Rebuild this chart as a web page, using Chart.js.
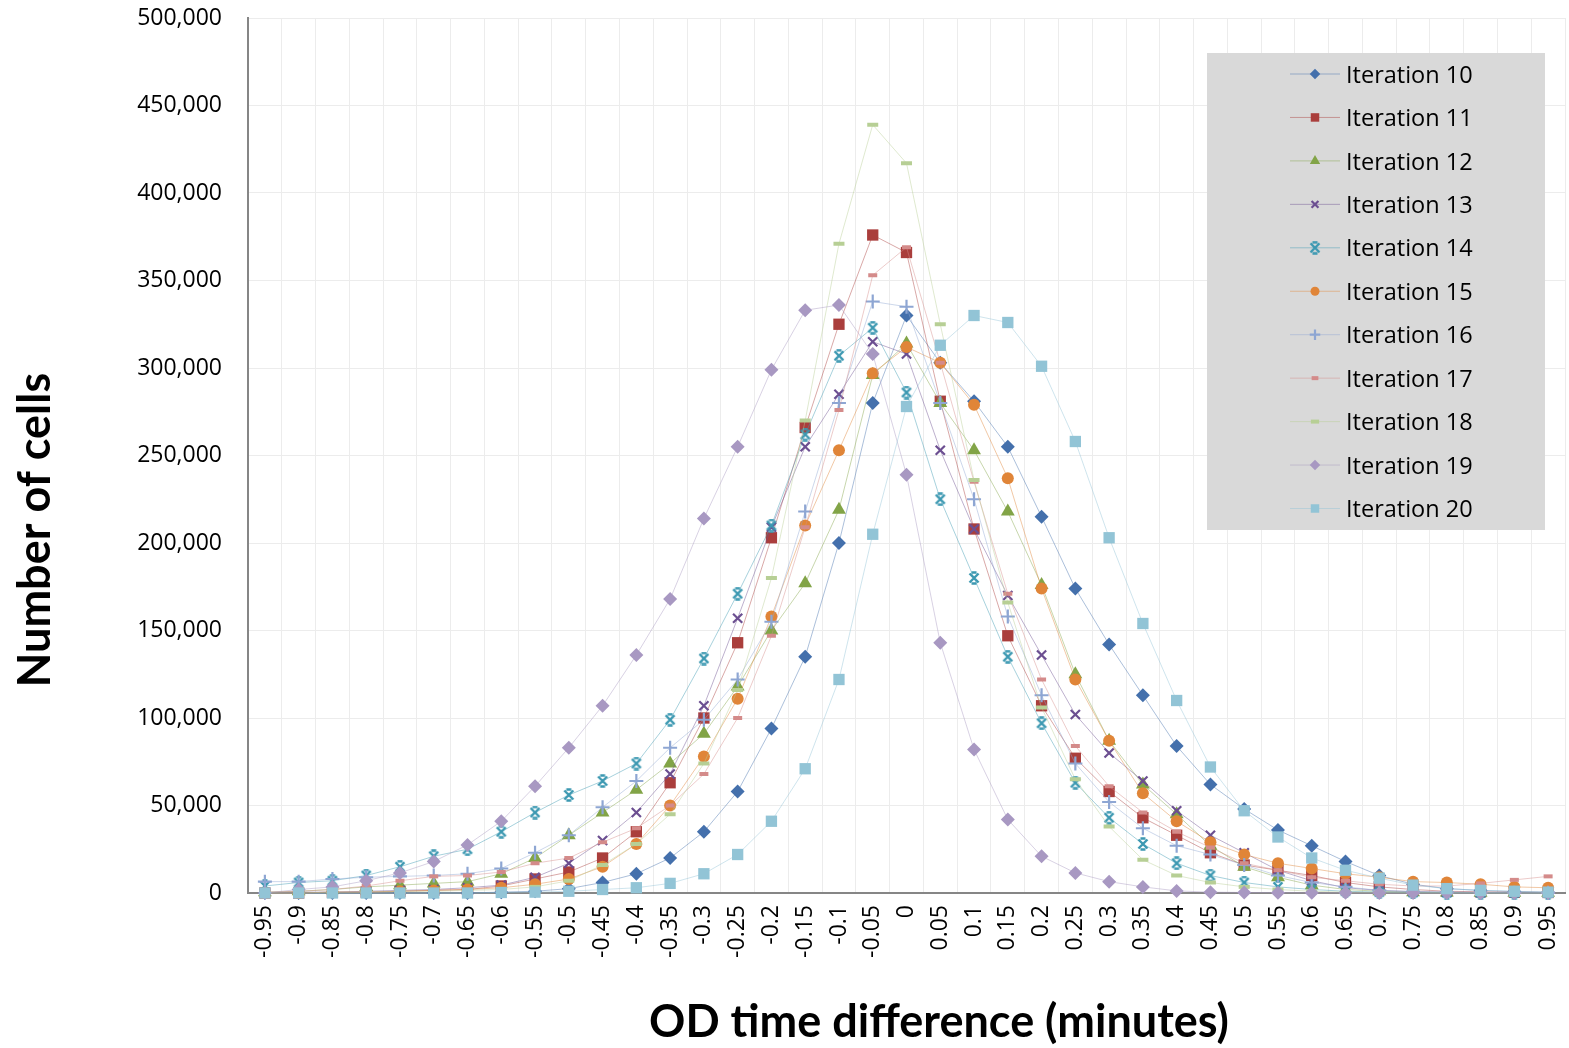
<!DOCTYPE html>
<html>
<head>
<meta charset="utf-8">
<title>OD time difference</title>
<script src="https://cdn.jsdelivr.net/npm/chart.js@4.4.1/dist/chart.umd.min.js"></script>
<style>
    html, body { margin: 0; padding: 0; background: #fff; }
    #wrap { position: relative; width: 1569px; height: 1048px; }
</style>
</head>
<body>
<div id="wrap"><canvas id="chart" width="1569" height="1048"></canvas></div>
<script>
// Kategorien (x-Achse)
const categories = ["-0.95", "-0.9", "-0.85", "-0.8", "-0.75", "-0.7", "-0.65", "-0.6", "-0.55", "-0.5",
    "-0.45", "-0.4", "-0.35", "-0.3", "-0.25", "-0.2", "-0.15", "-0.1", "-0.05", "0",
    "0.05", "0.1", "0.15", "0.2", "0.25", "0.3", "0.35", "0.4", "0.45", "0.5",
    "0.55", "0.6", "0.65", "0.7", "0.75", "0.8", "0.85", "0.9", "0.95"];

// y-Achse
const yTicks = [0, 50000, 100000, 150000, 200000, 250000, 300000, 350000, 400000, 450000, 500000];

const seriesNames = ["Iteration 10", "Iteration 11", "Iteration 12", "Iteration 13", "Iteration 14",
    "Iteration 15", "Iteration 16", "Iteration 17", "Iteration 18", "Iteration 19", "Iteration 20"];

// Werte pro Iteration
const iter10 = [0, 0, 0, 0, 0, 0, 0, 500, 1000, 2500, 6000, 11000, 20000, 35000, 58000, 94000, 135000, 200000, 280000, 330000,
    303000, 281000, 255000, 215000, 174000, 142000, 113000, 84000, 62000, 48000, 36000, 27000, 18000, 10000, 5000, 2500, 1500, 800, 500];
const iter11 = [0, 0, 500, 500, 1000, 1500, 2000, 4000, 8000, 12000, 20000, 35000, 63000, 100000, 143000, 203000, 266000, 325000, 376000, 366000,
    281000, 208000, 147000, 107000, 77000, 58000, 43000, 33000, 23000, 16000, 13000, 10000, 6000, 3500, 2000, 1000, 700, 500, 300];
const iter12 = [500, 1000, 2000, 3500, 4500, 5500, 6500, 11000, 20000, 33000, 46000, 59000, 74000, 91000, 118000, 150000, 177000, 219000, 296000, 314000,
    280000, 253000, 218000, 176000, 125000, 87000, 62000, 45000, 27000, 15000, 9000, 4500, 2000, 1000, 500, 300, 200, 100, 100];
const iter13 = [0, 500, 500, 1000, 1500, 2000, 3000, 4500, 9000, 17000, 30000, 46000, 68000, 107000, 157000, 209000, 255000, 285000, 315000, 308000,
    253000, 208000, 170000, 136000, 102000, 80000, 64000, 47000, 33000, 23000, 13000, 7000, 3000, 1500, 800, 500, 300, 200, 100];
const iter14 = [4000, 6000, 7000, 10000, 15000, 21000, 25000, 35000, 46000, 56000, 64000, 74000, 99000, 134000, 171000, 210000, 262000, 307000, 323000, 286000,
    225000, 180000, 135000, 97000, 63000, 43000, 28000, 17000, 10000, 6000, 3500, 2000, 1000, 500, 300, 200, 100, 100, 0];
const iter15 = [0, 0, 500, 500, 1000, 1500, 2000, 3000, 5000, 8000, 15000, 28000, 50000, 78000, 111000, 158000, 210000, 253000, 297000, 312000,
    303000, 279000, 237000, 174000, 122000, 87000, 57000, 41000, 29000, 22000, 17000, 14000, 11000, 9000, 6500, 6000, 5000, 3500, 3000];
const iter16 = [6500, 6500, 8000, 9000, 9500, 10000, 11000, 14000, 23000, 33000, 49000, 64000, 83000, 99000, 122000, 155000, 218000, 280000, 338000, 335000,
    280000, 225000, 158000, 113000, 74000, 52000, 37000, 27000, 22000, 16000, 10000, 6000, 3500, 1500, 800, 500, 300, 200, 100];
const iter17 = [500, 1000, 2000, 4000, 7000, 9500, 10000, 12000, 17000, 20000, 29000, 37000, 50000, 68000, 100000, 147000, 209000, 276000, 353000, 369000,
    303000, 235000, 171000, 122000, 84000, 61000, 46000, 35000, 26000, 17000, 13000, 9000, 7000, 5000, 4000, 4000, 5500, 7500, 9500];
const iter18 = [0, 0, 500, 500, 1000, 1000, 1500, 2000, 3500, 7000, 16000, 28000, 45000, 74000, 116000, 180000, 270000, 371000, 439000, 417000,
    325000, 236000, 166000, 106000, 65000, 38000, 19000, 10000, 6000, 3500, 2000, 1000, 500, 300, 200, 100, 100, 0, 0];
const iter19 = [0, 2000, 3500, 7000, 11500, 18000, 27500, 41000, 61000, 83000, 107000, 136000, 168000, 214000, 255000, 299000, 333000, 336000, 308000, 239000,
    143000, 82000, 42000, 21000, 11500, 6500, 3500, 1200, 500, 300, 200, 100, 100, 0, 0, 0, 0, 0, 0];
const iter20 = [0, 0, 0, 0, 0, 0, 0, 300, 500, 1000, 2000, 3000, 5500, 11000, 22000, 41000, 71000, 122000, 205000, 278000,
    313000, 330000, 326000, 301000, 258000, 203000, 154000, 110000, 72000, 47000, 32000, 20000, 13000, 8500, 4500, 2500, 1500, 1000, 500];

const colors = ["#4470ac", "#aa3e3c", "#82a447", "#6c4f91", "#3b98b1", "#e08538",
    "#8ea6d3", "#d48b8a", "#b7cf95", "#a898c2", "#92c4d6"];

/**
 * Stern-Marker wie in Excel (X mit kurzen Querbalken oben/unten).
 */
function starMarker(color) {
    const c = document.createElement("canvas");
    c.width = 14;
    c.height = 14;
    const g = c.getContext("2d");
    g.strokeStyle = color;
    g.lineWidth = 2.4;
    g.beginPath();
    g.moveTo(2.5, 2.5); g.lineTo(11.5, 11.5);
    g.moveTo(11.5, 2.5); g.lineTo(2.5, 11.5);
    g.moveTo(4.5, 1.5); g.lineTo(9.5, 1.5);
    g.moveTo(4.5, 12.5); g.lineTo(9.5, 12.5);
    g.stroke();
    return c;
}

function fade(hex, a) {
    const n = parseInt(hex.slice(1), 16);
    return `rgba(${(n >> 16) & 255}, ${(n >> 8) & 255}, ${n & 255}, ${a})`;
}

const markers = [
    { style: "rectRot", r: 7, bw: 0 },
    { style: "rect", r: 8, bw: 0 },
    { style: "triangle", r: 8, bw: 0 },
    { style: "crossRot", r: 6.5, bw: 2.2 },
    { style: "star", r: 7, bw: 0 },
    { style: "circle", r: 6, bw: 0 },
    { style: "cross", r: 7, bw: 2.2 },
    { style: "line", r: 4.5, bw: 4 },
    { style: "line", r: 5.5, bw: 4 },
    { style: "rectRot", r: 7, bw: 0 },
    { style: "rect", r: 8, bw: 0 },
];

const values = [iter10, iter11, iter12, iter13, iter14, iter15, iter16, iter17, iter18, iter19, iter20];

const datasets = values.map((data, i) => {
    const m = markers[i];
    const col = colors[i];
    const style = m.style === "star" ? starMarker(col) : m.style;
    return {
        label: seriesNames[i],
        data,
        borderColor: fade(col, 0.45),
        borderWidth: 1,
        backgroundColor: col,
        pointStyle: style,
        pointRadius: m.r,
        pointHoverRadius: m.r,
        pointBackgroundColor: col,
        pointBorderColor: col,
        pointBorderWidth: m.bw,
        tension: 0,
        clip: false,
        order: values.length - 1 - i, // Iteration 20 liegt oben
    };
});

// Legende als grauer Kasten im Plotbereich
const legendBox = {
    id: "legendBox",
    afterDraw(chart) {
        const ctx = chart.ctx;
        ctx.save();
        ctx.fillStyle = "#d9d9d9";
        ctx.fillRect(1207, 53, 338, 477);
        chart.data.datasets.forEach((ds, i) => {
            const y = 74 + i * 43.45;
            ctx.strokeStyle = ds.borderColor;
            ctx.lineWidth = 1;
            ctx.beginPath();
            ctx.moveTo(1290, y);
            ctx.lineTo(1340, y);
            ctx.stroke();

            ctx.fillStyle = ds.pointBackgroundColor;
            ctx.strokeStyle = ds.pointBorderColor;
            ctx.lineWidth = ds.pointBorderWidth;
            Chart.helpers.drawPoint(ctx, {
                pointStyle: ds.pointStyle,
                radius: ds.pointRadius * 0.75,
                borderWidth: ds.pointBorderWidth,
                rotation: 0,
            }, 1315, y);

            ctx.fillStyle = "#000";
            ctx.font = "23.5px 'Open Sans'";
            ctx.textAlign = "left";
            ctx.textBaseline = "middle";
            ctx.fillText(ds.label, 1346, y + 2);
        });
        ctx.restore();
    },
};

// Achsentitel
const axisTitles = {
    id: "axisTitles",
    afterDraw(chart) {
        const ctx = chart.ctx;
        ctx.save();
        ctx.fillStyle = "#000";
        ctx.font = "bold 45px Lato";
        ctx.textAlign = "center";
        ctx.textBaseline = "middle";
        ctx.fillText("OD time difference (minutes)", 939, 1022);
        ctx.translate(35, 530);
        ctx.rotate(-Math.PI / 2);
        ctx.fillText("Number of cells", 0, 0);
        ctx.restore();
    },
};

Chart.defaults.font.family = "'Open Sans'";
Chart.defaults.color = "#000";

const canvas = document.getElementById("chart");
new Chart(canvas.getContext("2d"), {
    type: "line",
    data: { labels: categories, datasets },
    options: {
        responsive: false,
        maintainAspectRatio: false,
        animation: false,
        layout: {
            autoPadding: false, // sonst wird Platz für Marker am Rand reserviert
            padding: { top: 18, right: 4, left: 0, bottom: 0 },
        },
        plugins: {
            legend: { display: false },
            tooltip: { enabled: false },
        },
        scales: {
            x: {
                offset: true,
                grid: { color: "#ececec", offset: true, drawTicks: false },
                border: { color: "#868686", width: 2 },
                ticks: {
                    autoSkip: false,
                    minRotation: 90,
                    maxRotation: 90,
                    padding: 12,
                    font: { size: 23 },
                    color: "#000",
                },
                afterFit: (s) => {
                    s.height = 155;
                    s.paddingLeft = 0;
                    s.paddingRight = 0;
                },
            },
            y: {
                min: yTicks[0],
                max: yTicks[yTicks.length - 1],
                grid: { color: "#ececec", drawTicks: false },
                border: { color: "#868686", width: 2 },
                afterBuildTicks: (s) => { s.ticks = yTicks.map((v) => ({ value: v })); },
                ticks: {
                    padding: 26,
                    font: { size: 23 },
                    color: "#000",
                    callback: (v) => v.toLocaleString("en-US"),
                },
                afterFit: (s) => {
                    s.width = 248;
                    s.paddingTop = 0;
                    s.paddingBottom = 0;
                },
            },
        },
    },
    plugins: [legendBox, axisTitles],
});
</script>
</body>
</html>
